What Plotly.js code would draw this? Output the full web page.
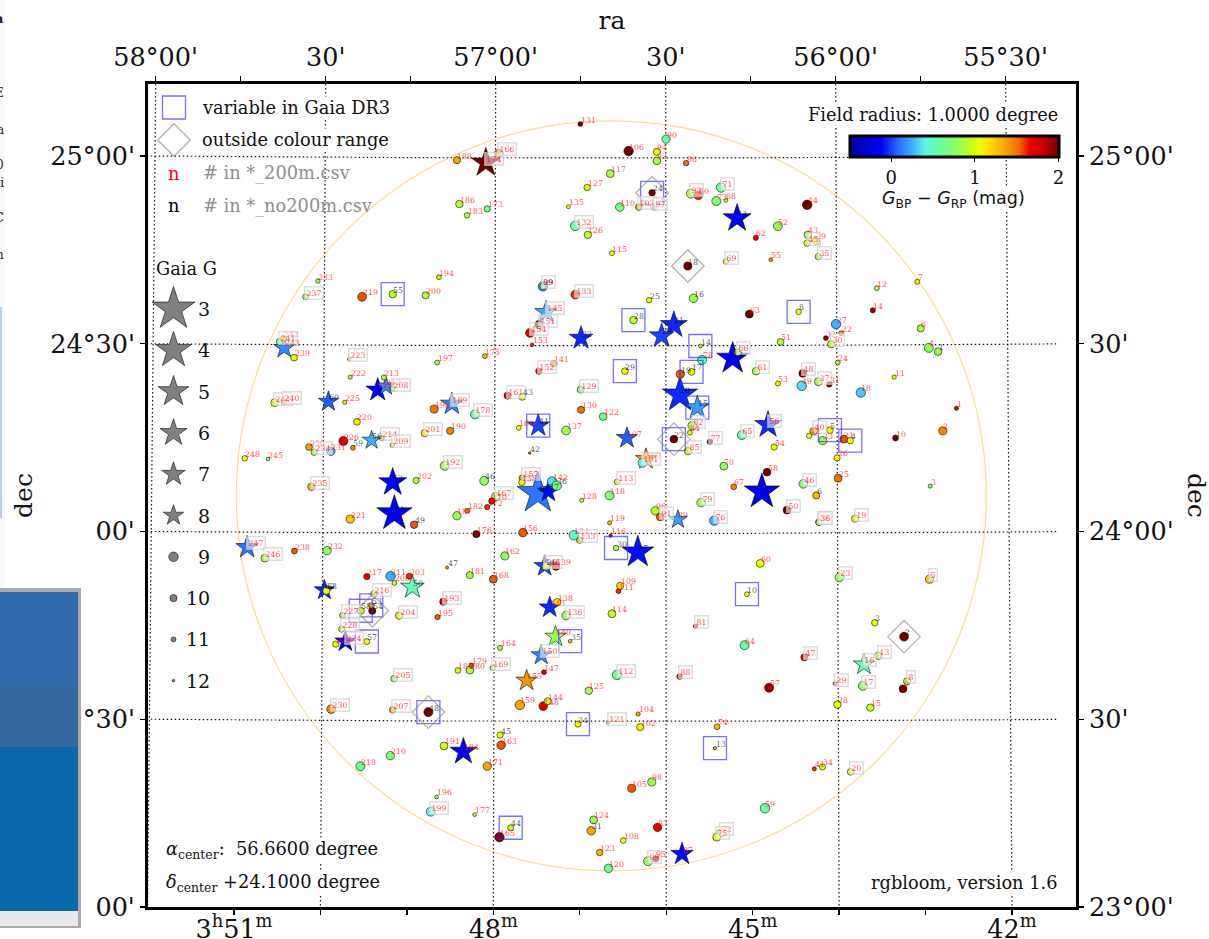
<!DOCTYPE html>
<html><head><meta charset="utf-8">
<script src="https://cdn.plot.ly/plotly-3.0.1.min.js"></script>
<style>html,body{margin:0;padding:0;background:#fff;overflow:hidden}#chart{width:1209px;height:939px}</style>
</head><body><div id="chart"></div>
<script>
// ---------- stars listed in *_200m.csv (red numbers) ----------
const redLabels = ["131","90","106","94","92","86","166","188","174","117","127","93","80","71","73","68","186","183","173","135","110","103","97","52","132","126","62","115","69","55","194","200","99","133","145","151","154","153","63","66","78","51","53","61","175","197","141","152","129","161",
"130","122","178","160","137","107","82","84","77","65","56","54","85","100","101","70","58","46","67","157","158","113","118","128","79","167","170","172","96","91","89","76","50","119","38","36","19","134","133","156","116","176","162","146","139","60","168","109","111","138","143","136","114","81","140","64","47","150","164","169","147","155","112","88","57","125","159","144","148","104","121","102","74","163","171","41","34","20","98","105","59","124","165","83","108","72","75","123","99","95","87","120","29","28","17","15","16","13","8","9",
"18","1","2","10","3","5","23","25","26","21","33","40","42","44","43","39","45","35","12","7","14","6","27","22","32","30","4","24","11","48","37","31","49","142",
"242","241","243","239","223","222","213","212","215","208","244","240","225","198","189","220","201","190","226","214","209","236","234","231","248","245","192","202","235","221","187","182","247","246","238","232","217","211","203","206","181","216","193","204","195","227","228","224","229","205","185","180","179","230","207","191","184","210","218","196","199","177","237","233","219"];
const redRa = [56.751,56.499,56.609,56.526,56.526,56.440,56.991,57.114,57.029,56.663,56.731,56.426,56.404,56.337,56.351,56.323,57.107,57.084,57.025,56.786,56.635,56.579,56.534,56.170,56.766,56.729,56.235,56.658,56.323,56.191,57.167,57.206,56.861,56.766,56.852,56.872,56.899,56.893,56.254,56.289,56.393,56.162,56.170,56.234,57.032,57.172,56.829,56.873,56.750,56.965,
56.749,56.684,57.061,56.932,56.793,56.614,56.422,56.429,56.370,56.276,56.199,56.181,56.434,56.558,56.568,56.329,56.202,56.095,56.300,56.922,56.923,56.643,56.665,56.747,56.396,57.000,57.011,57.025,56.531,56.516,56.464,56.357,56.143,56.665,56.050,56.049,55.943,56.770,56.753,56.920,56.662,57.057,56.973,56.856,56.823,56.222,57.007,56.634,56.639,56.819,56.841,56.793,56.658,56.412,56.824,56.268,56.092,56.866,56.987,57.009,56.858,56.909,56.643,56.459,56.196,56.726,56.929,56.847,56.860,56.581,56.669,56.575,56.349,56.984,57.025,56.063,56.039,55.956,56.541,56.600,56.208,56.712,56.989,56.524,56.625,56.338,56.350,56.694,56.552,56.529,56.452,56.668,56.002,55.995,55.920,55.898,55.917,55.875,55.790,55.802,
55.926,55.645,55.685,55.824,55.722,55.724,55.989,55.993,55.996,55.976,56.038,56.065,56.078,56.084,56.082,56.058,56.084,56.051,55.879,55.760,55.891,55.750,55.999,55.984,56.029,56.013,55.726,55.994,55.828,56.097,56.051,56.019,56.100,56.834,
57.624,57.636,57.622,57.593,57.431,57.428,57.329,57.323,57.347,57.303,57.650,57.623,57.444,57.181,57.129,57.408,57.209,57.134,57.448,57.335,57.304,57.549,57.534,57.485,57.738,57.670,57.150,57.234,57.542,57.428,57.114,57.084,57.731,57.679,57.592,57.496,57.379,57.309,57.254,57.298,57.076,57.358,57.154,57.284,57.171,57.451,57.453,57.442,57.470,57.299,57.111,57.076,57.071,57.484,57.303,57.152,57.095,57.310,57.398,57.174,57.191,57.062,57.559,57.523,57.393];
const redDec = [25.085,25.045,25.013,25.011,24.987,24.981,25.007,24.989,24.982,24.953,24.916,24.900,24.895,24.916,24.880,24.882,24.872,24.842,24.859,24.865,24.864,24.864,24.861,24.813,24.814,24.790,24.782,24.741,24.719,24.724,24.677,24.629,24.653,24.631,24.584,24.551,24.529,24.497,24.579,24.477,24.457,24.505,24.394,24.427,24.467,24.450,24.447,24.427,24.378,24.362,
24.324,24.306,24.312,24.276,24.269,24.249,24.282,24.263,24.239,24.257,24.284,24.225,24.214,24.193,24.183,24.174,24.158,24.127,24.119,24.142,24.131,24.132,24.096,24.083,24.077,24.093,24.081,24.065,24.055,24.039,24.032,24.029,24.057,24.023,24.025,24.024,24.034,23.990,23.977,23.997,23.989,23.993,23.935,23.908,23.907,23.915,23.873,23.855,23.841,23.812,23.798,23.776,23.781,23.748,23.720,23.697,23.665,23.671,23.690,23.637,23.625,23.603,23.618,23.614,23.584,23.576,23.538,23.548,23.535,23.514,23.491,23.479,23.480,23.431,23.375,23.368,23.373,23.360,23.333,23.316,23.263,23.232,23.186,23.212,23.177,23.198,23.186,23.145,23.122,23.128,23.141,23.103,23.595,23.539,23.589,23.531,23.646,23.669,23.601,23.581,
24.370,24.328,24.268,24.249,24.121,23.873,23.878,24.142,24.196,24.246,24.242,24.267,24.255,24.870,24.790,24.774,24.768,24.732,24.648,24.665,24.589,24.541,24.552,24.528,24.515,24.499,24.489,24.450,24.411,24.421,24.399,24.392,24.388,24.133,
24.513,24.505,24.489,24.463,24.459,24.411,24.410,24.387,24.377,24.380,24.343,24.345,24.344,24.326,24.340,24.292,24.262,24.268,24.241,24.249,24.230,24.225,24.211,24.214,24.195,24.193,24.175,24.136,24.119,24.033,24.042,24.055,23.958,23.929,23.948,23.949,23.880,23.881,23.881,23.863,23.884,23.834,23.813,23.776,23.772,23.777,23.740,23.707,23.700,23.608,23.630,23.631,23.643,23.527,23.525,23.429,23.414,23.403,23.375,23.293,23.254,23.246,24.625,24.667,24.625];
const redG = [11,9.5,9,10,9.8,10.8,9.5,10,5.4,9.7,10.3,9.2,9.5,9,9.2,11.5,9.9,10.7,10.4,11.4,9.4,10.2,11.3,9.3,9,9.9,10.9,11,10.8,11.5,11,10,9,9.3,7.3,9.3,9.3,11.5,9.7,10.3,9.2,10.2,10.9,9.8,11,11,10.3,10.4,10.1,10,
10,9.8,9.2,11,9.3,7.7,9.4,11,10.7,9.2,6,10.4,9.9,7.7,9.2,9.7,9.8,9.3,10.6,10.3,10.3,10.7,9.2,11.3,9.4,9.6,10.3,10.8,9.5,9.7,8.5,9,9.7,11.3,10.4,10.4,10,9,10.4,9.4,11.7,10,9.6,7.7,9.7,9.7,9.7,10,11,10,7.7,9.4,9.7,11.2,7.7,9.2,10,8,10.9,10.9,11,7.7,9,10.7,9.2,9.9,9,10,9.4,11.3,11.7,10,10.6,9.4,9.5,11.3,10.5,10.2,9.6,9.6,9,9.7,9,9.5,10.7,9.5,9.7,10.3,9.2,10.5,7.3,9.4,11.4,9.9,9.2,9.9,7.7,9.9,10,9.7,
9,11.3,9.6,10.6,11.3,9.6,9.3,9.7,10.4,9.7,9.6,9.8,10.8,9,9.9,9.9,10.3,10.3,11,10.9,10.9,10,9,11,11,9.9,9.2,11,11.3,9.8,9.7,10.7,9,9,
10.5,10.3,7.7,10.2,11.6,11.3,10.9,8.5,7,11,9.7,10.6,11.3,9.6,7.3,10.2,10,10,9.2,10.9,11.2,10.2,10.4,9.4,10.7,11.5,9.2,10.4,9.9,9.6,9.5,11,7.3,9.7,10.6,9.5,10.4,9,10.5,11,10,10.3,10,9.9,10.8,10.7,10.5,7.7,10.4,10.3,10.6,9.7,11,9.3,10.3,9.7,6,9.5,9.2,11.5,9.2,11.5,10.5,11.2,9.3];
const redBpRp = [2,0.55,2,1,0.85,1.5,1.45,1.35,2,0.85,1,0.9,1.6,0.6,0.7,1,0.9,0.85,0.65,1.05,0.7,1.4,1.4,0.8,0.55,0.9,1.65,1.05,1.05,1.4,0.9,0.85,0.2,1.6,0.25,2,1.75,1.6,2,1,0.55,0.9,1.1,0.85,1.3,0.85,1.4,1.75,0.65,1.75,
1.5,0.65,0.55,1.05,0.8,0.05,0.85,1,2,0.55,-0.05,1.05,1,1.4,0.4,0.8,2,0.7,1.45,1.35,1.1,1.05,0.7,0.95,0.85,0.85,1.7,1.6,0.9,1.55,0.2,0.25,2,1.3,1.25,0.9,1.05,0.45,1.3,1.55,1.7,2,0.75,0,1.75,1.05,1.55,1.15,1.6,1.1,-0.05,0.8,0.95,1.7,0.8,0.55,1.65,0.15,0.85,0.85,1.8,1.4,0.6,1.75,1.9,0.85,1.35,0.95,1.75,1.35,1.4,1.1,1.3,1.55,1.35,1.6,1.05,1.05,0.8,1.55,0.55,0.8,1.95,1.7,1.05,0.9,1.05,1.3,0.8,1.95,-0.1,0.6,1.5,1.05,0.75,0.95,0.5,0.95,0.9,2,
0.3,1.65,1.45,2,0.75,1.25,0.8,1.5,1.1,1.55,0.8,1.2,1,2,0.85,0.95,1.05,0.85,0.85,1.15,1.9,0.85,0.25,1.4,1.95,0.95,0.75,0.85,1,1.95,0.85,1.95,0.35,0.35,
1.1,0.7,0.15,1,1.2,0.85,0.85,0.15,-0.15,0.9,1,1.4,1.15,1.5,0.15,1.1,1.15,1.45,1.75,1.4,1,1.35,0.85,0.25,1.05,0.7,0.8,0.85,1.3,1.25,0.8,1.5,0.1,0.85,1.55,0.75,1.7,0.25,1.6,0.9,0.8,0.95,1.75,1.1,1.55,0.8,0.85,-0.2,1.05,0.75,0.95,0.8,1.55,1.45,1.4,0.95,-0.2,0.7,0.6,0.75,0.4,0.85,0.8,0.8,1.55];

// ---------- stars listed in *_no200m.csv (black numbers) ----------
const blackLabels = ["24","18","39","25","16","11","28","32","21","23","14","12","29","19","17","43","20","15","41","22","42","6","9","40","37","36","46","30","27","26","10","35","34","13","45","31","44","2","3","4","5","1","8","60","56","59","52","51","49","50","47","62","63","58","53","54","57","48","55"];
const blackRa = [56.540,56.435,56.861,56.549,56.418,56.290,56.595,56.749,56.476,56.512,56.398,56.303,56.620,56.457,56.424,56.922,56.458,56.407,56.875,56.476,56.900,56.057,56.217,56.876,56.845,56.821,57.034,56.646,56.582,56.852,56.261,56.781,56.758,56.355,56.987,56.719,56.956,55.799,55.885,55.957,56.017,55.699,56.109,57.492,57.365,57.420,57.303,57.298,57.240,57.245,57.143,57.504,57.498,57.397,57.366,57.363,57.379,57.198,57.303];
const blackDec = [24.902,24.707,24.653,24.616,24.621,24.834,24.563,24.515,24.550,24.521,24.494,24.461,24.427,24.419,24.425,24.359,24.364,24.330,24.282,24.246,24.209,24.096,24.106,24.102,24.106,24.122,24.135,23.956,23.945,23.907,23.833,23.708,23.487,23.423,23.458,23.203,23.211,23.720,23.757,24.242,24.270,24.479,24.585,24.346,24.243,24.223,24.131,24.048,24.018,23.852,23.904,23.844,23.842,23.789,23.803,23.789,23.707,23.519,24.632];
const blackG = [10.3,9.6,10.5,10.7,9.4,5.7,9.8,7,6,6.7,11.5,4.7,10.2,9.6,10.2,10,4.1,7,7.3,9.8,12,10,4.1,3.2,7.7,9,9.3,10.7,4.7,9.7,11,11.5,10.5,11.7,10.4,9.4,10.5,9.3,10.3,10.4,10.2,9.8,10.7,8,8.5,11,5.7,4.1,9.9,7,11.8,8,10,10,10.7,10,10.5,9.2,9.9];
const blackBpRp = [2,2,0.8,1.05,0.8,-0.15,0.9,-0.05,-0.05,0,0.85,-0.2,1.05,1.55,1.05,0.9,-0.05,0.2,0,2,1.5,1.3,-0.2,0.1,-0.1,0.65,0.75,0.85,-0.1,0.9,1.05,1.3,1.05,1.35,1.05,1.35,0.95,2,1.05,1.05,1.05,0.8,1.05,0.05,0.25,1.45,-0.15,-0.15,1.55,0.5,1.4,-0.05,1.05,0.95,1.2,2,1.05,2,0.9];

// flags
const variableBlack = ["24","28","14","29","17","15","41","22","30","10","35","34","13","44","8","5","4","58","53","57","48","55"];
const outsideRangeBlack = ["24","18","22","2","48","54"];
const boxedRed = ["166","174","93","71","103","97","132","69","99","133","145","151","154","61","152","129","161","178","82","77","65","56","85","101","46","157","113","79","167","91","76","50","38","36","19","146","136","81","47","150","169","112","88","121","20","72","75","29","17","16","13","8","5","23","40","45","35","30","48","37","241","223","208","244","240","189","201","214","209","234","192","235","247","246","216","193","204","227","228","224","205","230","207","199","237","66"];
const legendMags = [3,4,5,6,7,8,9,10,11,12];

// ---------- geometry ----------
const M = {l:148, r:133, t:84, b:32};
const raAt = px => 58 - (px - 155.7) / 340;
const decAt = py => 25 - (py - 156) / 375.5;
const paperX = px => (px - M.l) / (1209 - M.l - M.r);
const paperY = py => (939 - M.b - py) / (939 - M.t - M.b);
const xRange = [raAt(M.l), raAt(1209 - M.r)];
const yRange = [decAt(939 - M.b), decAt(M.t)];
const SERIF = '"DejaVu Serif", serif';
const SANS = '"DejaVu Sans", sans-serif';

const starWidths = [[3,40],[4,33.5],[5,28.5],[6,25],[7,22],[8,19],[9,16]];
function markerSize(g){
  if (g >= 9) return Math.max(2.5, 9.5 - 2.3 * (g - 9));
  for (let i = 0; i < starWidths.length - 1; i++) {
    const a = starWidths[i], b = starWidths[i+1];
    if (g <= b[0]) return (a[1] + (b[1]-a[1]) * (g-a[0]) / (b[0]-a[0])) / 1.24;
  }
}
const symbolFor = g => g < 9 ? 'star' : 'circle';

const jet = [[0,'#00009a'],[0.15,'#0000ff'],[0.23,'#2a6aff'],[0.30,'#3fb0ff'],[0.36,'#5ff5e8'],[0.41,'#60ffb0'],[0.49,'#80ff70'],[0.57,'#bfff20'],[0.62,'#eaff00'],[0.66,'#ffe000'],[0.73,'#f5b000'],[0.81,'#f06a00'],[0.86,'#f00000'],[0.92,'#d00000'],[1,'#700000']];

// ---------- merge + order ----------
const all = [];
redLabels.forEach((l,i)=>all.push({l,ra:redRa[i],dec:redDec[i],g:redG[i],c:redBpRp[i],red:true}));
blackLabels.forEach((l,i)=>all.push({l,ra:blackRa[i],dec:blackDec[i],g:blackG[i],c:blackBpRp[i],red:false}));
const sorted = all.slice().sort((a,b)=>a.g-b.g);

// ---------- grid ----------
const bottomTick = m => 57.007 + (m - 48) * 0.25426;
const gx=[], gy=[];
[[58,52],[57.5,50],[57,48],[56.5,46],[56,44],[55.5,42]].forEach(([ra,m])=>{
  gx.push(ra, bottomTick(m), null); gy.push(yRange[1], yRange[0], null);
});
[25,24.5,24,23.5].forEach(d=>{
  for (let ra=58.05; ra>=55.25; ra-=0.1){ const t=(ra-56.66)/1.36; gx.push(ra); gy.push(d-0.0053*(1-t*t)); }
  gx.push(null); gy.push(null);
});

const traces = [];
traces.push({type:'scatter',mode:'lines',x:gx,y:gy,hoverinfo:'skip',showlegend:false,connectgaps:false,
  line:{color:'rgba(0,0,0,0.9)',width:1.2,dash:'1.5px,2.5px'}});

traces.push({type:'scatter',mode:'markers',x:sorted.map(s=>s.ra),y:sorted.map(s=>s.dec),text:sorted.map(s=>s.l),showlegend:false,
  marker:{opacity:1,symbol:sorted.map(s=>symbolFor(s.g)),size:sorted.map(s=>markerSize(s.g)),color:sorted.map(s=>s.c),
    cmin:-0.5,cmax:2,colorscale:jet,line:{color:'rgba(0,0,0,0.8)',width:0.7},
    colorbar:{orientation:'h',lenmode:'pixels',len:209,thickness:21,thicknessmode:'pixels',x:paperX(849.5),xanchor:'left',y:paperY(136),yanchor:'top',
      xpad:0,ypad:0,outlinewidth:3,outlinecolor:'#000',borderwidth:0,bgcolor:'rgba(0,0,0,0)',tickmode:'array',tickvals:[0,1,2],ticktext:['0','1','2'],
      ticks:'outside',ticklen:4,tickwidth:1,tickcolor:'#000',tickfont:{family:SERIF,size:18,color:'#111'}}}});

const byLabel = (list)=>blackLabels.map((l,i)=>list.includes(l)?i:-1).filter(i=>i>=0);
const vi = byLabel(variableBlack), di = byLabel(outsideRangeBlack);
traces.push({type:'scatter',mode:'markers',x:vi.map(i=>blackRa[i]),y:vi.map(i=>blackDec[i]),showlegend:false,hoverinfo:'skip',
  marker:{symbol:'square-open',size:23,color:'rgba(40,40,255,0.65)',line:{width:1.3}}});
traces.push({type:'scatter',mode:'markers',x:di.map(i=>blackRa[i]),y:di.map(i=>blackDec[i]),showlegend:false,hoverinfo:'skip',
  marker:{symbol:'diamond-open',size:25,color:'rgba(128,128,128,0.6)',line:{width:1.3}}});

// legend samples
traces.push({type:'scatter',mode:'markers',showlegend:false,hoverinfo:'skip',
  x:legendMags.map(()=>raAt(173.5)),y:legendMags.map((g,i)=>decAt(309+41.3*i)),
  marker:{opacity:1,symbol:legendMags.map(symbolFor),size:legendMags.map(markerSize),color:'#808080',line:{color:'rgba(0,0,0,0.8)',width:0.7}}});
traces.push({type:'scatter',mode:'markers',showlegend:false,hoverinfo:'skip',x:[raAt(174)],y:[decAt(107.5)],
  marker:{symbol:'square-open',size:23,color:'rgba(40,40,255,0.65)',line:{width:1.3}}});
traces.push({type:'scatter',mode:'markers',showlegend:false,hoverinfo:'skip',x:[raAt(174)],y:[decAt(140)],
  marker:{symbol:'diamond-open',size:25,color:'rgba(128,128,128,0.6)',line:{width:1.3}}});

// ---------- annotations ----------
const ann = [];
function note(px,py,text,o={}){
  ann.push(Object.assign({xref:'paper',yref:'paper',x:paperX(px),y:paperY(py),text,showarrow:false,xanchor:'left',yanchor:'middle',
    font:{family:SERIF,size:17.8,color:'#111'},borderpad:0},o));
}
const WHITE = {bgcolor:'#fff'};
note(201,107,'variable in Gaia DR3',WHITE);
note(201,139.5,'outside colour range',WHITE);
note(167,173,'n',{font:{family:SERIF,size:17.8,color:'#f00'}});
note(202,173,'# in *_200m.csv',{font:{family:SERIF,size:17.8,color:'#8f8f8f'}});
note(167,206,'n',{font:{family:SERIF,size:17.8,color:'#000'}});
note(202,206,'# in *_no200m.csv',{font:{family:SERIF,size:17.8,color:'#8f8f8f'}});
note(155,268,'Gaia G');
legendMags.forEach((g,i)=>note(211,309+41.3*i,String(g),{xanchor:'right',font:{family:SERIF,size:19,color:'#111'}}));
note(1059,114.5,'Field radius: 1.0000 degree',Object.assign({xanchor:'right'},WHITE));
note(953.7,199.5,'<i>G</i><sub>BP</sub> − <i>G</i><sub>RP</sub> (mag)',Object.assign({xanchor:'center',font:{family:SANS,size:17.5,color:'#111'}},WHITE));
note(165,850,'<i>α</i><sub>center</sub>:  56.6600 degree',WHITE);
note(165,882.5,'<i>δ</i><sub>center</sub> +24.1000 degree',WHITE);
note(1059,882.5,'rgbloom, version 1.6',Object.assign({xanchor:'right'},WHITE));
note(1196,495,'dec',{xanchor:'center',textangle:90,font:{family:SERIF,size:25,color:'#111'}});

// star number labels
all.forEach(s=>{
  const boxed = s.red && boxedRed.includes(s.l);
  const a = {xref:'x',yref:'y',x:s.ra,y:s.dec,text:s.l,showarrow:false,xanchor:'left',yanchor:'middle',xshift:-1.5,yshift:4,
    font:{family:SERIF,size:7.8,color:s.red?'rgba(255,0,0,0.75)':'rgba(0,0,0,0.7)'},borderpad:1};
  if (boxed){ a.bgcolor='rgba(255,255,255,0.55)'; a.bordercolor='rgba(205,205,205,0.65)'; a.borderwidth=1.5; }
  ann.push(a);
});

// fragments of the neighbouring window at the left edge
[['a',18,13,true],['E',93,12],['a',130,12],['0',165,12],['si',183,12],['C',218,13],['n',255,12]].forEach(([t,y,sz,b])=>{
  note(5,y,b?'<b>'+t+'</b>':t,{xanchor:'right',font:{family:SERIF,size:sz,color:'#222'}});
});

// ---------- shapes ----------
const rect=(x0,y0,x1,y1,fill,layer='above')=>({type:'rect',xref:'paper',yref:'paper',x0:paperX(x0),x1:paperX(x1),y0:paperY(y0),y1:paperY(y1),
  fillcolor:fill,line:{width:0},layer});
const shapes=[
  {type:'circle',xref:'x',yref:'y',x0:56.66-1.103,x1:56.66+1.103,y0:24.095-0.9987,y1:24.095+0.9987,line:{color:'rgba(255,165,0,0.4)',width:1.2},layer:'below'},
  rect(0,0,5,590,'#f8f8f8','below'),
  rect(0,307,2,518,'#b5d3ee','below'),
  rect(0,588,81,928,'#a9a9a9'),
  rect(0,592,78,686,'#3369ad'),
  rect(0,686,78,747,'#34689f'),
  rect(0,747,78,911,'#0a67ab'),
  rect(0,911,78,926,'#e8e8e8')
];

const tick = {ticks:'outside',ticklen:5,tickwidth:1.3,tickcolor:'#000',showline:true,linewidth:3,linecolor:'#000',showgrid:false,zeroline:false,
  tickfont:{family:SERIF,size:25.5,color:'#111'},tickmode:'array'};
const minorTick = vals => ({tickmode:'array',tickvals:vals,ticks:'outside',ticklen:5,tickwidth:1.3,tickcolor:'#000',showgrid:false});
const bottomMajor=[51,48,45,42], bottomMinor=[52,50,49,47,46,44,43];
const topMajor=[58,57.5,57,56.5,56,55.5], topMinor=[57.75,57.25,56.75,56.25,55.75];
const layout = {
  width:1209,height:939,margin:M,paper_bgcolor:'#fff',plot_bgcolor:'#fff',showlegend:false,
  xaxis:Object.assign({},tick,{range:xRange,side:'bottom',tickvals:bottomMajor.map(bottomTick),ticklabelstandoff:-8,
    ticktext:bottomMajor.map(m=>m===51?'3<sup>h</sup>51<sup>m</sup>':m+'<sup>m</sup>'),minor:minorTick(bottomMinor.map(bottomTick))}),
  xaxis2:Object.assign({},tick,{range:xRange,overlaying:'x',side:'top',anchor:'y',tickvals:topMajor,
    ticktext:["58°00'","30'","57°00'","30'","56°00'","55°30'"],minor:minorTick(topMinor),
    title:{text:'ra',font:{family:SERIF,size:25,color:'#111'},standoff:6}}),
  yaxis:Object.assign({},tick,{range:yRange,side:'left',tickvals:[25,24.5,24,23.5,23],ticktext:["25°00'","24°30'","00'","23°30'","00'"],
    title:{text:'dec',font:{family:SERIF,size:25,color:'#111'},standoff:11}}),
  yaxis2:Object.assign({},tick,{range:yRange,overlaying:'y',side:'right',anchor:'x',tickvals:[25,24.5,24,23.5,23],ticktext:["25°00'","30'","24°00'","30'","23°00'"]}),
  annotations:ann,shapes
};
// empty traces keep the overlay axes alive
traces.push({type:'scatter',x:[],y:[],xaxis:'x2',yaxis:'y2',showlegend:false,hoverinfo:'skip'});
Plotly.newPlot('chart',traces,layout,{staticPlot:true,displayModeBar:false});
</script></body></html>
